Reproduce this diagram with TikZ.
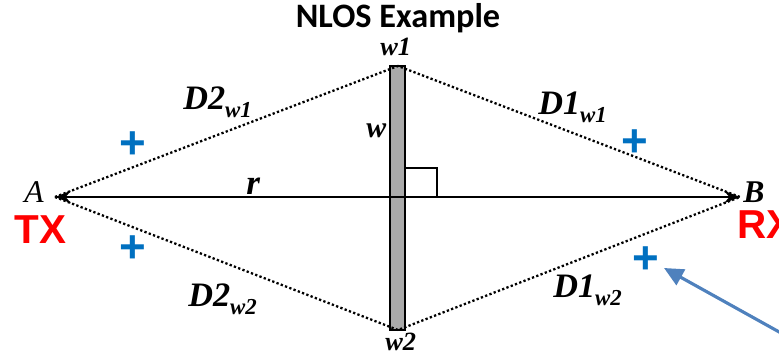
\documentclass[tikz,border=0pt]{standalone}
\usepackage{fontspec}
\setmainfont{Liberation Serif}
\newfontfamily\titlefont{Carlito}
\newfontfamily\txfont{Liberation Sans}
\usetikzlibrary{arrows.meta}
\definecolor{wallgray}{RGB}{170,170,170}
\definecolor{plusblue}{RGB}{0,112,192}
\definecolor{pointblue}{RGB}{79,129,189}
\newcommand{\lowtxt}[1]{\raisebox{-0.45ex}{\fontsize{13}{13}\selectfont #1}}
\begin{document}
\begin{tikzpicture}[
  x=0.02cm, y=-0.02cm,
  lbl/.style={inner sep=0pt, anchor=base west},
  dist/.style={lbl, font=\fontsize{19.5}{22}\selectfont\bfseries\itshape},
  plus/.style={inner sep=0pt, text=plusblue, font=\fontsize{26}{26}\selectfont\txfont\bfseries},
  path/.style={line width=1.3pt, dash pattern=on 1.3pt off 1.3pt},
  tag/.style={lbl, text=red, font=\fontsize{23}{24}\selectfont\txfont\bfseries},
]
\useasboundingbox (0,0) rectangle (779,357);

% --- Title ---
\node[inner sep=0pt, anchor=base, font=\fontsize{19.5}{22}\selectfont\titlefont\bfseries]
  (title) at (398,28) {NLOS Example};

% --- End points and wall corners ---
\coordinate (A) at (55,197);
\coordinate (B) at (740,197);
\coordinate (wtop) at (398,66);
\coordinate (wbot) at (398,330);

% Wall
\draw[line width=1.1pt, fill=wallgray] (390,66) rectangle (405,330);

% Right angle mark
\draw[line width=0.6pt] (405,168) -- (437,168) -- (437,197);

% Direct line A -- B
\draw[line width=1.2pt, {Stealth[length=9pt,width=7pt]}-{Stealth[length=9pt,width=7pt]}] (A) -- (B);

% Reflected paths over the wall ends
\draw[path] (A) -- (wtop) -- (B);
\draw[path] (A) -- (wbot) -- (B);

% --- Labels ---
\node[lbl, font=\fontsize{18}{20}\selectfont\itshape] (Alabel) at (24,203) {A};
\node[lbl, font=\fontsize{18}{20}\selectfont\bfseries\itshape] (Blabel) at (743,203) {B};
\node[tag] (TX) at (14,244) {TX};
\node[tag] (RX) at (737,239) {RX};

\node[lbl, font=\fontsize{15}{16}\selectfont\bfseries\itshape] (w1) at (380,56) {w1};
\node[lbl, font=\fontsize{15}{16}\selectfont\bfseries\itshape] (w2) at (385,351) {w2};
\node[lbl, font=\fontsize{17}{18}\selectfont\bfseries\itshape] (w) at (366,138) {w};
\node[lbl, font=\fontsize{20}{22}\selectfont\bfseries\itshape] (r) at (246,195) {r};

\node[dist] (D2w1) at (183,110) {D2\lowtxt{w1}};
\node[dist] (D1w1) at (538,115) {D1\lowtxt{w1}};
\node[dist] (D2w2) at (188,307) {D2\lowtxt{w2}};
\node[dist] (D1w2) at (553,298) {D1\lowtxt{w2}};

% Plus marks
\node[plus] (p1) at (133,145) {+};
\node[plus] (p2) at (635,143) {+};
\node[plus] (p3) at (133,249) {+};
\node[plus] (p4) at (646,260) {+};

% Pointer arrow
\coordinate (ptail) at (790,338);
\coordinate (ptip) at (664,268);
\draw[pointblue, line width=1.8pt, -{Triangle[length=11pt,width=10pt]}] (ptail) -- (ptip);
\end{tikzpicture}
\end{document}
